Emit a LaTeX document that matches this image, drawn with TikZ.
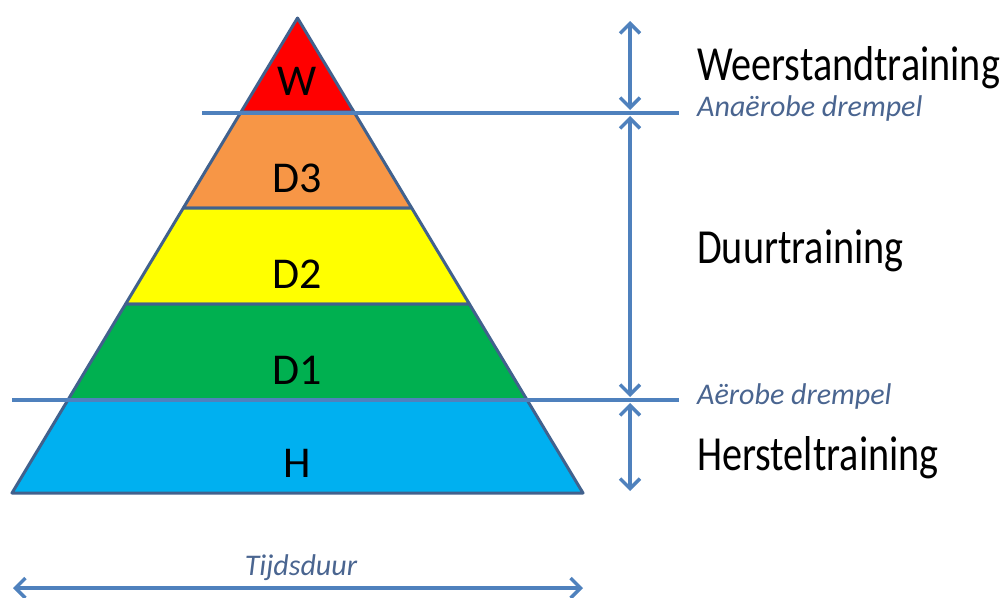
\documentclass[tikz,border=0pt]{standalone}
\usepackage{fontspec}
\setmainfont{Carlito}[FakeStretch=0.82]
\newfontfamily\bandfont{Carlito}
\usetikzlibrary{arrows.meta}
\definecolor{edgec}{HTML}{41618D}
\definecolor{linec}{HTML}{4F81BD}
\definecolor{txtc}{HTML}{4A6590}
\definecolor{cW}{HTML}{FF0000}
\definecolor{cD3}{HTML}{F79646}
\definecolor{cD2}{HTML}{FFFF00}
\definecolor{cD1}{HTML}{00B050}
\definecolor{cH}{HTML}{00B0F0}
\tikzset{
  band/.style={draw=edgec, line width=3pt, line join=round},
  blabel/.style={font=\bandfont\fontsize{44}{44}\selectfont, anchor=base, inner sep=0pt},
  rlabel/.style={font=\fontsize{49}{49}\selectfont, anchor=base west, inner sep=0pt},
  thr/.style={font=\bandfont\fontsize{30}{30}\selectfont\itshape, text=txtc, anchor=base west, inner sep=0pt},
  hline/.style={draw=linec, line width=3.5pt},
  darrow/.style={draw=linec, line width=3.5pt, {Straight Barb[length=10pt,width=20pt]}-{Straight Barb[length=10pt,width=20pt]}}
}
\begin{document}
\begin{tikzpicture}[x=1pt,y=-1pt]
\useasboundingbox (0,0) rectangle (1003,597);
% band corners
\coordinate (apex) at (297.5,18);
\coordinate (aL) at (241,112);  \coordinate (aR) at (354,112);
\coordinate (bL) at (183.3,208);\coordinate (bR) at (411.7,208);
\coordinate (cL) at (125.6,304);\coordinate (cR) at (469.4,304);
\coordinate (dL) at (67.9,400); \coordinate (dR) at (527.1,400);
\coordinate (eL) at (12,493);   \coordinate (eR) at (583,493);
% bands
\filldraw[band, fill=cW]  (apex) -- (aR) -- (aL) -- cycle;
\filldraw[band, fill=cD3] (aL) -- (aR) -- (bR) -- (bL) -- cycle;
\filldraw[band, fill=cD2] (bL) -- (bR) -- (cR) -- (cL) -- cycle;
\filldraw[band, fill=cD1] (cL) -- (cR) -- (dR) -- (dL) -- cycle;
\filldraw[band, fill=cH]  (dL) -- (dR) -- (eR) -- (eL) -- cycle;
% band labels
\node[blabel] (lW)  at (297.5,95)  {W};
\node[blabel] (lD3) at (297.5,192) {D3};
\node[blabel] (lD2) at (297.5,288) {D2};
\node[blabel] (lD1) at (297.5,384) {D1};
\node[blabel] (lH)  at (297.5,477) {H};
% threshold lines
\coordinate (t1s) at (202,113); \coordinate (t1e) at (679,113);
\coordinate (t2s) at (12,400);  \coordinate (t2e) at (679,400);
\draw[hline] (t1s) -- (t1e);
\draw[hline] (t2s) -- (t2e);
% vertical arrows
\coordinate (v0) at (630,21);
\coordinate (v1a) at (630,110); \coordinate (v1b) at (630,116);
\coordinate (v2a) at (630,397); \coordinate (v2b) at (630,403);
\coordinate (v3) at (630,491);
\draw[darrow] (v0) -- (v1a);
\draw[darrow] (v1b) -- (v2a);
\draw[darrow] (v2b) -- (v3);
% right labels
\node[rlabel] (rW) at (697,80)  {Weerstandtraining};
\node[thr]    (tA) at (697,116) {Anaërobe drempel};
\node[rlabel] (rD) at (697,263) {Duurtraining};
\node[thr]    (tB) at (697,404) {Aërobe drempel};
\node[rlabel] (rH) at (697,470) {Hersteltraining};
% time arrow
\coordinate (hL) at (13,588); \coordinate (hR) at (583,588);
\draw[darrow] (hL) -- (hR);
\node[font=\bandfont\fontsize{30}{30}\selectfont\itshape, text=txtc, anchor=base, inner sep=0pt] (td) at (301,575) {Tijdsduur};
\end{tikzpicture}
\end{document}
